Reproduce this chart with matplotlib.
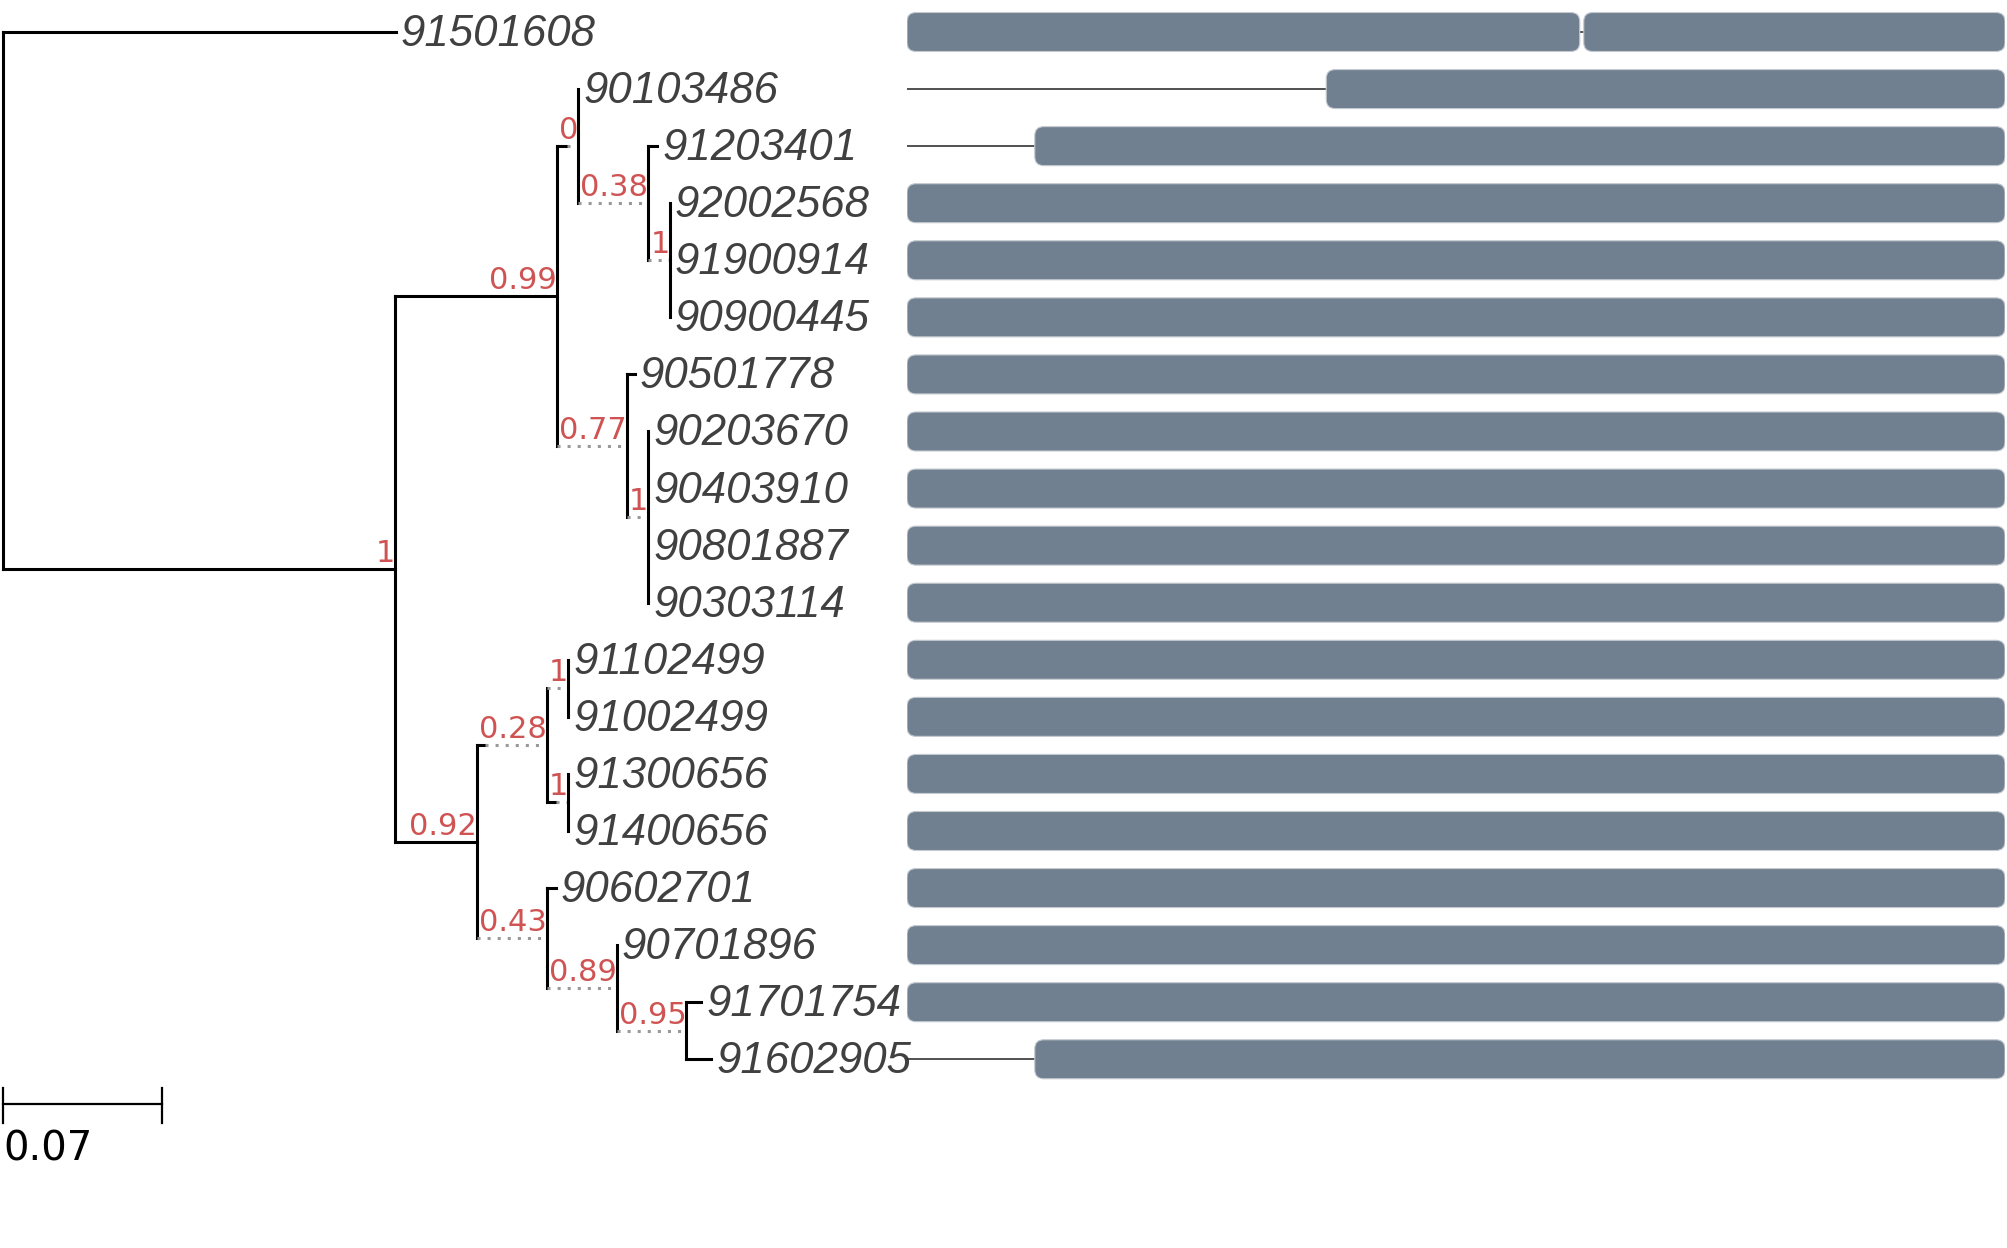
import matplotlib
matplotlib.use("Agg")
import matplotlib.pyplot as plt
from matplotlib.patches import FancyBboxPatch
from matplotlib.transforms import offset_copy

# tree (newick, support values as internal node names)
newick = ("(91501608:0.173,(((90103486:0,(91203401:0.004,(92002568:0,91900914:0,"
          "90900445:0)1:0)0.38:0)0:0.0044,(90501778:0.0035,(90203670:0,90403910:0,"
          "90801887:0,90303114:0)1:0)0.77:0)0.99:0.0713,(((91102499:0,91002499:0)1:0,"
          "(91300656:0,91400656:0)1:0.004)0.28:0.0035,(90602701:0.004,(90701896:0,"
          "(91701754:0.0066,91602905:0.011)0.95:0)0.89:0)0.43:0)0.92:0.0361)1:0.1726);")

# alignment blocks per sequence (start, end), everything else is full length
seq_len = 550
blocks = {
    "91501608": [(0, 337), (339, 550)],
    "90103486": [(210, 550)],
    "91203401": [(64, 550)],
    "91602905": [(64, 550)],
}
scale_len = 0.07

leaf_color = "#404040"
support_color = "#cf5353"
bar_color = "#708090"


def parse(s):
    pos = 0

    def node():
        nonlocal pos
        n = {"children": [], "name": "", "dist": 0.0}
        if s[pos] == "(":
            pos += 1
            n["children"].append(node())
            while s[pos] == ",":
                pos += 1
                n["children"].append(node())
            pos += 1
        start = pos
        while s[pos] not in ":,);":
            pos += 1
        n["name"] = s[start:pos]
        if s[pos] == ":":
            pos += 1
            start = pos
            while s[pos] not in ",);":
                pos += 1
            n["dist"] = float(s[start:pos])
        return n

    return node()


root = parse(newick)

fig = plt.figure(figsize=(20.07, 12.48), dpi=100)
ax = fig.add_axes([0, 0, 1, 1])
ax.set_xlim(-0.0013, 0.8824)
ax.set_ylim(21.307, -0.5607)
ax.axis("off")
renderer = fig.canvas.get_renderer()
px_per_unit = ax.transData.transform((1, 0))[0] - ax.transData.transform((0, 0))[0]

sup_font = dict(family="DejaVu Sans", fontsize=22, color=support_color)
leaf_font = dict(family="Liberation Sans", style="italic", fontsize=31.5, color=leaf_color)

leaves = []


def set_y(n):
    if not n["children"]:
        n["y"] = len(leaves)
        leaves.append(n)
    else:
        for c in n["children"]:
            set_y(c)
        n["y"] = (n["children"][0]["y"] + n["children"][-1]["y"]) / 2


def set_x(n, x0):
    n["x0"] = x0
    w = n["dist"]
    if n["children"] and n is not root and n["name"]:
        t = ax.text(0, 0, n["name"], **sup_font)
        tw = t.get_window_extent(renderer).width / px_per_unit
        t.remove()
        w = max(w, tw + 2 / px_per_unit)
    n["x1"] = x0 + w
    for c in n["children"]:
        set_x(c, n["x1"])


set_y(root)
set_x(root, 0.0)

sup_tr = offset_copy(ax.transData, fig=fig, x=0, y=7, units="dots")
leaf_tr = offset_copy(ax.transData, fig=fig, x=5, y=-14, units="dots")


def draw(n):
    y = n["y"]
    solid_end = n["x0"] + n["dist"]
    if n["dist"] > 0:
        ax.plot([n["x0"], solid_end], [y, y], color="black", lw=2.2,
                solid_capstyle="projecting")
    if n["x1"] > solid_end + 1e-9:
        ax.plot([solid_end, n["x1"]], [y, y], color="#999999", lw=2.2,
                linestyle=(0, (1, 2.3)))
    if n["children"]:
        ys = [c["y"] for c in n["children"]]
        ax.plot([n["x1"], n["x1"]], [min(ys), max(ys)], color="black", lw=2.2,
                solid_capstyle="projecting")
        if n is not root and n["name"]:
            ax.text(n["x1"], y, n["name"], ha="right", va="baseline",
                    transform=sup_tr, **sup_font)
        for c in n["children"]:
            draw(c)
    else:
        ax.text(n["x1"], y, n["name"], ha="left", va="baseline",
                transform=leaf_tr, **leaf_font)


draw(root)

# scale bar
yb = 18.784
ax.plot([0, scale_len], [yb, yb], color="black", lw=1.6)
for xv in [0, scale_len]:
    ax.plot([xv, xv], [yb - 0.28, yb + 0.33], color="black", lw=1.6)
ax.text(0, 19.77, str(scale_len), ha="left", va="baseline",
        family="DejaVu Sans", fontsize=29, color="black")

# alignment bars
bx = fig.add_axes([907 / 2007, 0, 1098 / 2007, 1])
bx.set_xlim(0, seq_len)
bx.set_ylim(21.307, -0.5607)
bx.axis("off")
xu = seq_len / 1098
yu = 1 / 57.07
bar_h = 39 * yu
for n in leaves:
    y = n["y"]
    bx.plot([0, seq_len], [y, y], color="#333333", lw=1.2, zorder=1)
    for s, e in blocks.get(n["name"], [(0, seq_len)]):
        p = FancyBboxPatch((s, y - bar_h / 2), e - s, bar_h,
                           boxstyle=f"round,pad=0,rounding_size={9 * xu}",
                           mutation_aspect=yu / xu,
                           facecolor=bar_color, edgecolor="#c4cad0", lw=0.8, zorder=2)
        bx.add_patch(p)

fig.savefig("out.png", dpi=100)
